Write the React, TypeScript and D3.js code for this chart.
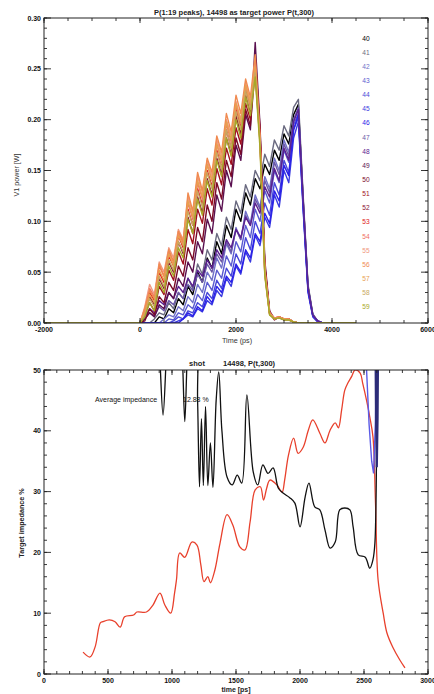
import React from 'react';
import * as d3 from 'd3';

// ---------- top chart data ----------
const TIME_PS = [-2000, 0, 100, 200, 300, 400, 500, 600, 700, 800, 900, 1000, 1100, 1200, 1300, 1400, 1500, 1600, 1700, 1800, 1900, 2000, 2100, 2200, 2300, 2400, 2500, 2600, 2700, 2800, 2900, 3000, 3100, 3200, 3300, 3400, 3500, 3600, 3700, 3800, 4500];

const PEAK_LABELS = ['40', '41', '42', '43', '44', '45', '46', '47', '48', '49', '50', '51', '52', '53', '54', '55', '56', '57', '58', '59'];
const PEAK_COLORS = ['#000000', '#6a6a80', '#7070c8', '#5a5ad0', '#4848d8', '#3a3ae0', '#2a20e8', '#6a58a8', '#5a2090', '#5a1050', '#7a0a28', '#a01020', '#8a1030', '#e01818', '#f07060', '#f09880', '#f08a50', '#e8a050', '#c8a860', '#a8a828'];

const P0 = [0, 0, 0, 0, 0, 0.006, 0.004, 0.014, 0.010, 0.024, 0.018, 0.036, 0.028, 0.050, 0.040, 0.064, 0.054, 0.080, 0.068, 0.096, 0.084, 0.112, 0.100, 0.128, 0.116, 0.142, 0.132, 0.156, 0.146, 0.170, 0.160, 0.186, 0.176, 0.205, 0.215, 0.120, 0.036, 0.008, 0.002, 0, 0];
const P1 = [0, 0, 0, 0, 0.004, 0.010, 0.008, 0.020, 0.014, 0.030, 0.024, 0.044, 0.034, 0.058, 0.048, 0.072, 0.062, 0.088, 0.076, 0.104, 0.092, 0.120, 0.108, 0.136, 0.124, 0.150, 0.140, 0.166, 0.154, 0.180, 0.170, 0.194, 0.184, 0.212, 0.220, 0.125, 0.038, 0.009, 0.002, 0, 0];
const P2 = [0, 0, 0, 0, 0, 0, 0.004, 0.008, 0.006, 0.016, 0.012, 0.026, 0.020, 0.038, 0.030, 0.050, 0.042, 0.064, 0.054, 0.078, 0.068, 0.094, 0.082, 0.110, 0.098, 0.126, 0.114, 0.144, 0.132, 0.162, 0.150, 0.180, 0.168, 0.200, 0.210, 0.118, 0.034, 0.008, 0.002, 0, 0];
const P3 = [0, 0, 0, 0, 0, 0, 0, 0.004, 0.003, 0.010, 0.008, 0.018, 0.014, 0.028, 0.022, 0.040, 0.032, 0.052, 0.044, 0.066, 0.056, 0.080, 0.070, 0.096, 0.084, 0.112, 0.100, 0.130, 0.118, 0.150, 0.138, 0.170, 0.158, 0.195, 0.206, 0.115, 0.033, 0.007, 0.002, 0, 0];
const P4 = [0, 0, 0, 0, 0, 0, 0, 0, 0.002, 0.006, 0.004, 0.012, 0.010, 0.020, 0.016, 0.030, 0.024, 0.042, 0.034, 0.054, 0.046, 0.068, 0.058, 0.084, 0.072, 0.100, 0.088, 0.118, 0.106, 0.138, 0.126, 0.160, 0.148, 0.190, 0.202, 0.112, 0.032, 0.007, 0.002, 0, 0];
const P5 = [0, 0, 0, 0, 0, 0, 0, 0, 0, 0.002, 0.004, 0.008, 0.006, 0.014, 0.011, 0.022, 0.018, 0.032, 0.026, 0.044, 0.036, 0.056, 0.048, 0.070, 0.060, 0.086, 0.076, 0.104, 0.094, 0.126, 0.114, 0.150, 0.138, 0.182, 0.198, 0.110, 0.030, 0.006, 0.001, 0, 0];
const P6 = [0, 0, 0, 0, 0, 0, 0, 0, 0, 0, 0.004, 0.010, 0.007, 0.016, 0.012, 0.026, 0.020, 0.036, 0.030, 0.046, 0.040, 0.058, 0.050, 0.072, 0.064, 0.088, 0.080, 0.108, 0.098, 0.130, 0.120, 0.155, 0.145, 0.190, 0.205, 0.115, 0.032, 0.007, 0.002, 0, 0];
const P7 = [0, 0, 0.004, 0.010, 0.007, 0.016, 0.012, 0.022, 0.018, 0.030, 0.024, 0.038, 0.032, 0.048, 0.040, 0.058, 0.050, 0.068, 0.060, 0.080, 0.070, 0.092, 0.082, 0.106, 0.096, 0.122, 0.112, 0.140, 0.128, 0.158, 0.146, 0.176, 0.164, 0.200, 0.212, 0.122, 0.036, 0.008, 0.002, 0, 0];
const P8 = [0, 0, 0.006, 0.014, 0.010, 0.022, 0.018, 0.030, 0.024, 0.036, 0.030, 0.044, 0.036, 0.052, 0.046, 0.062, 0.054, 0.072, 0.064, 0.082, 0.074, 0.092, 0.084, 0.104, 0.096, 0.118, 0.108, 0.134, 0.124, 0.152, 0.140, 0.172, 0.160, 0.198, 0.210, 0.120, 0.035, 0.008, 0.002, 0, 0];
const P9 = [0, 0, 0.004, 0.010, 0.006, 0.018, 0.014, 0.030, 0.024, 0.044, 0.036, 0.060, 0.050, 0.080, 0.068, 0.102, 0.088, 0.126, 0.110, 0.150, 0.134, 0.175, 0.160, 0.205, 0.190, 0.276, 0.195, 0.062, 0.012, 0.004, 0.005, 0.003, 0.004, 0.001, 0, 0, 0, 0, 0, 0, 0];
const P10 = [0, 0, 0.002, 0.014, 0.008, 0.026, 0.020, 0.040, 0.032, 0.056, 0.046, 0.074, 0.062, 0.094, 0.080, 0.116, 0.100, 0.138, 0.122, 0.160, 0.144, 0.182, 0.166, 0.210, 0.194, 0.250, 0.185, 0.055, 0.010, 0.003, 0.006, 0.004, 0.003, 0.001, 0, 0, 0, 0, 0, 0, 0];
const P11 = [0, 0, 0.008, 0.020, 0.012, 0.036, 0.028, 0.052, 0.042, 0.070, 0.058, 0.092, 0.078, 0.112, 0.098, 0.132, 0.116, 0.152, 0.136, 0.172, 0.156, 0.192, 0.176, 0.216, 0.200, 0.262, 0.192, 0.058, 0.011, 0.004, 0.005, 0.004, 0.003, 0.001, 0, 0, 0, 0, 0, 0, 0];
const P12 = [0, 0, 0.010, 0.026, 0.018, 0.044, 0.034, 0.060, 0.050, 0.080, 0.068, 0.104, 0.088, 0.124, 0.108, 0.142, 0.126, 0.162, 0.146, 0.182, 0.166, 0.204, 0.186, 0.226, 0.208, 0.254, 0.188, 0.056, 0.010, 0.004, 0.006, 0.003, 0.004, 0.001, 0, 0, 0, 0, 0, 0, 0];
const P13 = [0, 0, 0.012, 0.030, 0.022, 0.050, 0.040, 0.066, 0.056, 0.086, 0.074, 0.112, 0.096, 0.132, 0.116, 0.150, 0.134, 0.170, 0.152, 0.190, 0.172, 0.210, 0.192, 0.230, 0.212, 0.248, 0.182, 0.050, 0.009, 0.005, 0.006, 0.004, 0.004, 0.001, 0, 0, 0, 0, 0, 0, 0];
const P14 = [0, 0, 0.014, 0.034, 0.026, 0.056, 0.046, 0.070, 0.060, 0.090, 0.078, 0.118, 0.102, 0.138, 0.122, 0.156, 0.140, 0.176, 0.158, 0.196, 0.178, 0.214, 0.196, 0.232, 0.214, 0.244, 0.178, 0.048, 0.009, 0.004, 0.005, 0.004, 0.003, 0.001, 0, 0, 0, 0, 0, 0, 0];
const P15 = [0, 0, 0.016, 0.038, 0.028, 0.060, 0.050, 0.074, 0.064, 0.092, 0.082, 0.124, 0.108, 0.144, 0.128, 0.160, 0.144, 0.180, 0.164, 0.200, 0.184, 0.218, 0.200, 0.236, 0.218, 0.258, 0.180, 0.052, 0.010, 0.005, 0.006, 0.004, 0.004, 0.001, 0, 0, 0, 0, 0, 0, 0];
const P16 = [0, 0, 0.014, 0.032, 0.024, 0.058, 0.046, 0.072, 0.060, 0.090, 0.080, 0.128, 0.110, 0.148, 0.130, 0.162, 0.148, 0.184, 0.168, 0.206, 0.188, 0.224, 0.206, 0.240, 0.222, 0.264, 0.184, 0.054, 0.010, 0.005, 0.006, 0.004, 0.004, 0.001, 0, 0, 0, 0, 0, 0, 0];
const P17 = [0, 0, 0.010, 0.028, 0.020, 0.052, 0.042, 0.068, 0.056, 0.086, 0.076, 0.120, 0.104, 0.140, 0.124, 0.156, 0.140, 0.176, 0.160, 0.198, 0.180, 0.216, 0.198, 0.234, 0.216, 0.252, 0.178, 0.050, 0.009, 0.004, 0.005, 0.004, 0.003, 0.001, 0, 0, 0, 0, 0, 0, 0];
const P18 = [0, 0, 0.008, 0.024, 0.016, 0.046, 0.036, 0.062, 0.052, 0.080, 0.070, 0.110, 0.096, 0.130, 0.114, 0.148, 0.132, 0.168, 0.152, 0.190, 0.172, 0.208, 0.190, 0.228, 0.210, 0.246, 0.176, 0.048, 0.008, 0.004, 0.005, 0.003, 0.003, 0.001, 0, 0, 0, 0, 0, 0, 0];
const P19 = [0, 0, 0.006, 0.020, 0.012, 0.040, 0.030, 0.056, 0.046, 0.074, 0.064, 0.102, 0.088, 0.122, 0.106, 0.140, 0.124, 0.160, 0.144, 0.182, 0.164, 0.200, 0.182, 0.222, 0.204, 0.242, 0.172, 0.046, 0.008, 0.004, 0.005, 0.003, 0.003, 0.001, 0, 0, 0, 0, 0, 0, 0];
const POWER_SERIES = [P0, P1, P2, P3, P4, P5, P6, P7, P8, P9, P10, P11, P12, P13, P14, P15, P16, P17, P18, P19];

const TOP_X_TICKS = [-2000, 0, 2000, 4000, 6000];
const TOP_Y_TICKS = [0, 0.05, 0.1, 0.15, 0.2, 0.25, 0.3];

// ---------- bottom chart data ----------
const RED_T = [305, 360, 400, 440, 460, 510, 555, 595, 630, 700, 725, 800, 850, 906, 945, 990, 1020, 1035, 1060, 1100, 1155, 1195, 1225, 1250, 1280, 1300, 1335, 1375, 1430, 1475, 1530, 1570, 1610, 1650, 1690, 1715, 1740, 1765, 1820, 1860, 1880, 1910, 1950, 1985, 2025, 2065, 2100, 2155, 2195, 2235, 2275, 2300, 2325, 2350, 2375, 2405, 2430, 2470, 2490, 2520, 2545, 2570, 2590, 2610, 2650, 2680, 2725, 2780, 2820];
const RED_V = [3.6, 2.8, 4.5, 8.4, 8.6, 8.9, 8.6, 7.7, 9.4, 9.7, 10.2, 10.2, 11.3, 13.3, 11.3, 10.0, 13.3, 15.5, 19.9, 19.2, 21.7, 21.2, 18.0, 15.2, 16.0, 15.0, 17.1, 21.5, 26.2, 24.5, 20.9, 20.4, 25.0, 30.3, 30.8, 28.6, 30.6, 31.9, 31.1, 29.9, 31.9, 36.0, 38.8, 36.3, 37.3, 40.1, 41.8, 39.6, 38.0, 40.1, 41.3, 40.5, 43.4, 46.7, 47.9, 49.0, 50.0, 49.5, 47.8, 45.0, 42.3, 39.0, 28.0, 15.5, 10.0, 6.7, 4.4, 2.3, 1.0];

const BLACK_T = [885, 905, 930, 955, 975, 1070, 1085, 1100, 1115, 1130, 1180, 1200, 1215, 1230, 1245, 1262, 1280, 1300, 1320, 1345, 1365, 1390, 1430, 1470, 1510, 1545, 1585, 1635, 1670, 1710, 1750, 1790, 1830, 1865, 1920, 1960, 2000, 2040, 2070, 2115, 2155, 2195, 2235, 2275, 2310, 2350, 2390, 2415, 2455, 2510, 2545, 2570, 2585, 2600, 2610];
const BLACK_V = [60, 52, 42.6, 52, 60, 60, 50, 41.5, 50, 60, 60, 45, 30.8, 42, 31, 44, 31, 38, 30.7, 45, 49.7, 40, 32.4, 31.1, 32.7, 31.4, 45.9, 33.2, 31.1, 34.4, 33.0, 33.9, 30.6, 29.8, 29.0, 28.1, 24.2, 29.1, 31.4, 27.5, 27.0, 23.7, 20.7, 21.7, 27.0, 27.3, 27.0, 24.2, 19.6, 19.2, 17.4, 18.8, 21.5, 40, 60];

const BLUE_T = [2505, 2520, 2540, 2560, 2575, 2590, 2600, 2606];
const BLUE_V = [60, 50, 41, 35, 33, 42, 55, 60];
const NAVY_T = [2588, 2594, 2600, 2606, 2612];
const NAVY_V = [60, 42, 34, 42, 60];

const BOT_X_TICKS = [0, 500, 1000, 1500, 2000, 2500, 3000];
const BOT_Y_TICKS = [0, 10, 20, 30, 40, 50];

const FONT = 'Liberation Sans, Arial, sans-serif';

type Box = { l: number; r: number; t: number; b: number };

function Frame({ box, x, y, xMajor, xMinor, yMajor, yMinor, xFmt, yFmt }: any) {
  const { l, r, t, b } = box;
  const els: any[] = [];
  const M = 5, m = 3;
  xMinor.forEach((v: number, i: number) => {
    const px = x(v);
    els.push(<line key={'xm' + i} x1={px} x2={px} y1={b} y2={b - m} />);
    els.push(<line key={'xmt' + i} x1={px} x2={px} y1={t} y2={t + m} />);
  });
  xMajor.forEach((v: number, i: number) => {
    const px = x(v);
    els.push(<line key={'xM' + i} x1={px} x2={px} y1={b} y2={b - M} />);
    els.push(<line key={'xMt' + i} x1={px} x2={px} y1={t} y2={t + M} />);
  });
  yMinor.forEach((v: number, i: number) => {
    const py = y(v);
    els.push(<line key={'ym' + i} x1={l} x2={l + m} y1={py} y2={py} />);
    els.push(<line key={'ymr' + i} x1={r} x2={r - m} y1={py} y2={py} />);
  });
  yMajor.forEach((v: number, i: number) => {
    const py = y(v);
    els.push(<line key={'yM' + i} x1={l} x2={l + M + 2} y1={py} y2={py} />);
    els.push(<line key={'yMr' + i} x1={r} x2={r - M - 2} y1={py} y2={py} />);
  });
  return (
    <g>
      <rect x={l} y={t} width={r - l} height={b - t} fill="none" stroke="#222" strokeWidth={1} />
      <g stroke="#222" strokeWidth={0.9}>{els}</g>
      <g fontFamily={FONT} fontSize={7} fill="#111" fontWeight="bold">
        {xMajor.map((v: number, i: number) => (
          <text key={'xl' + i} x={x(v)} y={b + 9} textAnchor="middle">{xFmt(v)}</text>
        ))}
        {yMajor.map((v: number, i: number) => (
          <text key={'yl' + i} x={l - 3} y={y(v) + 2.5} textAnchor="end">{yFmt(v)}</text>
        ))}
      </g>
    </g>
  );
}

export default function App() {
  const topBox: Box = { l: 44, r: 428, t: 18, b: 323 };
  const botBox: Box = { l: 44, r: 428, t: 370, b: 674 };

  const xT = d3.scaleLinear().domain([-2000, 6000]).range([topBox.l, topBox.r]);
  const yT = d3.scaleLinear().domain([0, 0.3]).range([topBox.b, topBox.t]);
  const xB = d3.scaleLinear().domain([0, 3000]).range([botBox.l, botBox.r]);
  const yB = d3.scaleLinear().domain([0, 50]).range([botBox.b, botBox.t]);

  const topLine = d3.line<number>().x((_, i) => xT(TIME_PS[i])).y((d) => yT(d));
  const mkLine = (ts: number[], curve: any) =>
    d3.line<number>().x((_, i) => xB(ts[i])).y((d) => yB(d)).curve(curve);

  const topXMinor = d3.range(-2000, 6001, 500);
  const topYMinor = d3.range(0, 0.3001, 0.01);
  const botXMinor = d3.range(0, 3001, 100);
  const botYMinor = d3.range(0, 50.01, 2);

  const legendY0 = 38;
  const legendDy = 14.15;

  return (
    <svg width={434} height={694} style={{ position: 'absolute', left: 0, top: 0, background: '#fff' }}>
      <defs>
        <clipPath id="clipTop"><rect x={topBox.l} y={topBox.t} width={topBox.r - topBox.l} height={topBox.b - topBox.t} /></clipPath>
        <clipPath id="clipBot"><rect x={botBox.l} y={botBox.t} width={botBox.r - botBox.l} height={botBox.b - botBox.t} /></clipPath>
      </defs>
      <rect x={0} y={0} width={434} height={694} fill="#fff" />

      {/* ---- top chart ---- */}
      <g clipPath="url(#clipTop)">
        {POWER_SERIES.map((s, i) => (
          <path key={i} d={topLine(s) || ''} fill="none" stroke={PEAK_COLORS[i]} strokeWidth={1.4} strokeLinejoin="round" />
        ))}
      </g>
      <Frame box={topBox} x={xT} y={yT} xMajor={TOP_X_TICKS} xMinor={topXMinor} yMajor={TOP_Y_TICKS} yMinor={topYMinor}
        xFmt={(v: number) => String(v)} yFmt={d3.format('.2f')} />
      <text x={234} y={15} textAnchor="middle" fontFamily={FONT} fontSize={7.5} fill="#222" fontWeight="bold">
        P(1:19 peaks), 14498 as target power P(t,300)
      </text>
      <text x={237} y={343} textAnchor="middle" fontFamily={FONT} fontSize={7.2} fill="#333">Time (ps)</text>
      <text transform="translate(19,175) rotate(-90)" textAnchor="middle" fontFamily={FONT} fontSize={7.2} fill="#333">V1 power [W]</text>
      <g fontFamily={FONT} fontSize={6.6}>
        {PEAK_LABELS.map((lab, i) => (
          <text key={i} x={366} y={legendY0 + i * legendDy + 2.5} textAnchor="middle" fill={PEAK_COLORS[i]}>{lab}</text>
        ))}
      </g>

      {/* ---- bottom chart ---- */}
      <g clipPath="url(#clipBot)">
        <path d={mkLine(RED_T, d3.curveCatmullRom)(RED_V) || ''} fill="none" stroke="#e8402c" strokeWidth={1.3} />
        <path d={mkLine(BLACK_T, d3.curveCatmullRom)(BLACK_V) || ''} fill="none" stroke="#111" strokeWidth={1.3} />
        <path d={mkLine(BLUE_T, d3.curveLinear)(BLUE_V) || ''} fill="none" stroke="#5a5ae6" strokeWidth={1.4} />
        <path d={mkLine(NAVY_T, d3.curveLinear)(NAVY_V) || ''} fill="none" stroke="#2c2c78" strokeWidth={2.2} />
      </g>
      <Frame box={botBox} x={xB} y={yB} xMajor={BOT_X_TICKS} xMinor={botXMinor} yMajor={BOT_Y_TICKS} yMinor={botYMinor}
        xFmt={(v: number) => String(v)} yFmt={(v: number) => String(v)} />
      <text x={197} y={366} textAnchor="middle" fontFamily={FONT} fontSize={7.5} fill="#222" fontWeight="bold">shot</text>
      <text x={223} y={366} textAnchor="start" fontFamily={FONT} fontSize={7.5} fill="#222" fontWeight="bold">14498, P(t,300)</text>
      <text x={95} y={402} fontFamily={FONT} fontSize={7} fill="#111">Average impedance</text>
      <text x={183} y={402} fontFamily={FONT} fontSize={7} fill="#111">12.88 %</text>
      <text x={236} y={692} textAnchor="middle" fontFamily={FONT} fontSize={7} fill="#222" fontWeight="bold">time [ps]</text>
      <text transform="translate(24,523) rotate(-90)" textAnchor="middle" fontFamily={FONT} fontSize={7.2} fill="#222" fontWeight="bold">Target impedance %</text>
    </svg>
  );
}
